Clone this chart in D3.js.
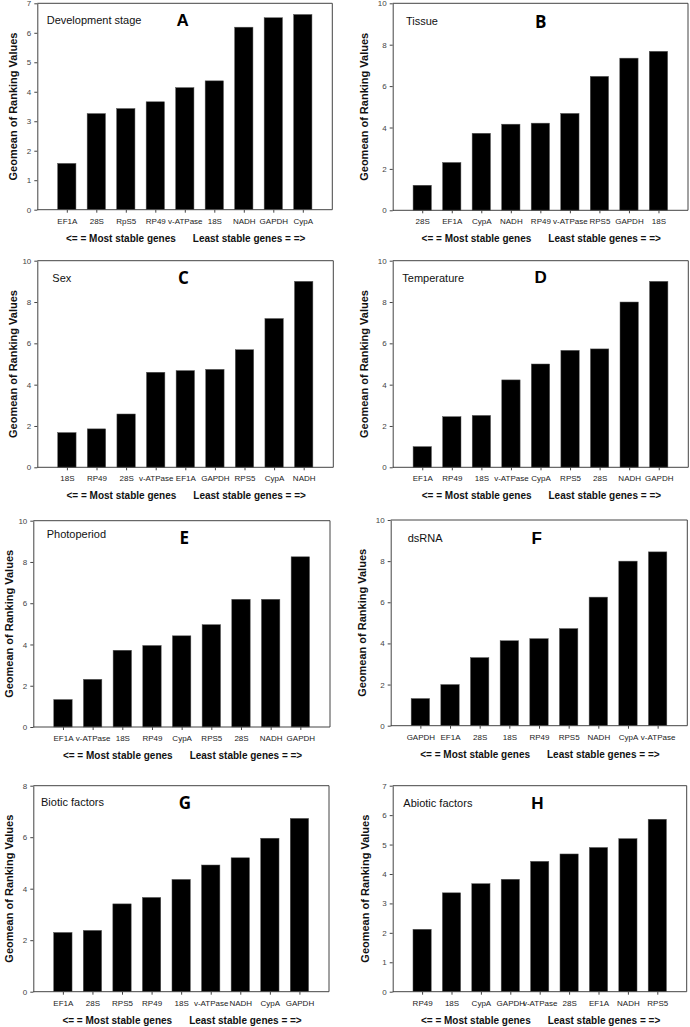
<!DOCTYPE html>
<html>
<head>
<meta charset="utf-8">
<script src="https://cdn.jsdelivr.net/npm/d3@7"></script>
<style>
html,body{margin:0;padding:0;background:#fff;}
svg{display:block;}
</style>
</head>
<body>
<svg id="chart" width="690" height="1027"></svg>
<script>
// ---- Data ----
const panelNames = ["Development stage","Tissue","Sex","Temperature","Photoperiod","dsRNA","Biotic factors","Abiotic factors"];
const panelLetters = ["A","B","C","D","E","F","G","H"];

const catsA = ["EF1A","28S","RpS5","RP49","v-ATPase","18S","NADH","GAPDH","CypA"];
const valsA = [1.57,3.26,3.43,3.66,4.14,4.37,6.19,6.51,6.62];
const catsB = ["28S","EF1A","CypA","NADH","RP49","v-ATPase","RPS5","GAPDH","18S"];
const valsB = [1.21,2.31,3.72,4.16,4.21,4.68,6.47,7.35,7.68];
const catsC = ["18S","RP49","28S","v-ATPase","EF1A","GAPDH","RPS5","CypA","NADH"];
const valsC = [1.68,1.86,2.58,4.6,4.68,4.74,5.69,7.2,9.0];
const catsD = ["EF1A","RP49","18S","v-ATPase","CypA","RPS5","28S","NADH","GAPDH"];
const valsD = [1.0,2.45,2.51,4.23,5.0,5.66,5.73,8.0,9.0];
const catsE = ["EF1A","v-ATPase","18S","RP49","CypA","RPS5","28S","NADH","GAPDH"];
const valsE = [1.33,2.31,3.72,3.95,4.42,4.96,6.19,6.19,8.25];
const catsF = ["GAPDH","EF1A","28S","18S","RP49","RPS5","NADH","CypA","v-ATPase"];
const valsF = [1.32,2.0,3.31,4.13,4.23,4.72,6.25,8.0,8.45];
const catsG = ["EF1A","28S","RPS5","RP49","18S","v-ATPase","NADH","CypA","GAPDH"];
const valsG = [2.3,2.38,3.41,3.66,4.36,4.92,5.2,5.96,6.73];
const catsH = ["RP49","18S","CypA","GAPDH","v-ATPase","28S","EF1A","NADH","RPS5"];
const valsH = [2.12,3.36,3.67,3.82,4.43,4.68,4.9,5.2,5.86];

const allCats = [catsA,catsB,catsC,catsD,catsE,catsF,catsG,catsH];
const allVals = [valsA,valsB,valsC,valsD,valsE,valsF,valsG,valsH];
const yMaxes = [7,10,10,10,10,10,8,7];
const yTickSteps = [1,2,2,2,2,2,2,1];

const yTitle = "Geomean of Ranking Values";
const leftNote = "<= = Most stable genes";
const rightNote = "Least stable genes = =>";

// ---- Layout (pixel geometry only) ----
const layout = [
  {l:37.3, r:332.3, t:3.3,   b:209.7, tx:12.7,  nx:46.7,  ny:20,    lx:182.7, ly:20,    lf:"Liberation Sans"},
  {l:392.7,r:688,   t:3.3,   b:210.3, tx:364.3, nx:406,   ny:21,    lx:540.8, ly:21,    lf:"Open Sans"},
  {l:37.3, r:333.3, t:260.7, b:467.3, tx:12.7,  nx:52.3,  ny:277.7, lx:183.3, ly:277.7, lf:"Open Sans"},
  {l:392.7,r:688.3, t:260.7, b:467.3, tx:364.3, nx:402.3, ny:277.7, lx:540.7, ly:277.7, lf:"Liberation Sans"},
  {l:33.3, r:330,   t:520.7, b:727,   tx:8.5,   nx:46.7,  ny:534,   lx:184.3, ly:537.3, lf:"Open Sans"},
  {l:390.7,r:687.3, t:520,   b:725.7, tx:362,   nx:407.7, ny:538.3, lx:536.7, ly:538.3, lf:"Liberation Sans"},
  {l:33.3, r:329,   t:785.7, b:991.7, tx:9.3,   nx:41,    ny:802.3, lx:185,   ly:802,   lf:"Open Sans"},
  {l:392.7,r:686.7, t:785.7, b:991.7, tx:365,   nx:403.3, ny:803.3, lx:537.3, ly:803.3, lf:"Liberation Sans"}
];

const svg = d3.select("#chart");
const FONT = "'Liberation Sans', Arial, sans-serif";

allCats.forEach((cats, i) => {
  const L = layout[i];
  const vals = allVals[i];
  const x = d3.scalePoint().domain(cats).range([L.l, L.r]).padding(1);
  const y = d3.scaleLinear().domain([0, yMaxes[i]]).range([L.b, L.t]);
  const bw = x.step() * 0.62;
  const g = svg.append("g");

  // bars
  g.selectAll("rect.bar").data(cats).enter().append("rect")
    .attr("class","bar")
    .attr("x", d => x(d) - bw/2)
    .attr("width", bw)
    .attr("y", (d,j) => y(vals[j]))
    .attr("height", (d,j) => y(0) - y(vals[j]))
    .attr("fill", "#000")
    .attr("stroke", "#555")
    .attr("stroke-width", 0.5);

  // frame top and right
  g.append("line").attr("x1", L.l).attr("x2", L.r).attr("y1", L.t).attr("y2", L.t)
    .attr("stroke", "#444").attr("stroke-width", 1);
  g.append("line").attr("x1", L.r).attr("x2", L.r).attr("y1", L.t).attr("y2", L.b)
    .attr("stroke", "#444").attr("stroke-width", 1);

  // y axis
  const yAxis = d3.axisLeft(y)
    .tickValues(d3.range(0, yMaxes[i] + 0.001, yTickSteps[i]))
    .tickFormat(d3.format("d"))
    .tickSize(3).tickPadding(3).tickSizeOuter(0);
  const ya = g.append("g").attr("transform", `translate(${L.l},0)`).call(yAxis);
  ya.selectAll("path,line").attr("stroke", "#444");
  ya.selectAll("text").attr("font-family", FONT).attr("font-size", 8).attr("fill", "#444");

  // x axis
  const xAxis = d3.axisBottom(x).tickSize(3).tickPadding(3).tickSizeOuter(0);
  const xa = g.append("g").attr("transform", `translate(0,${L.b})`).call(xAxis);
  xa.select("path.domain").attr("d", `M${L.l},0H${L.r}`);
  xa.selectAll("path,line").attr("stroke", "#444");
  xa.selectAll("text").attr("font-family", FONT).attr("font-size", 8).attr("fill", "#222")
    .attr("dy", null).attr("y", 14);

  // y title
  g.append("text")
    .attr("transform", `translate(${L.tx},${(L.t + L.b)/2}) rotate(-90)`)
    .attr("text-anchor", "middle").attr("dominant-baseline", "central")
    .attr("font-family", FONT).attr("font-weight", "bold").attr("font-size", 11)
    .attr("fill", "#111").text(yTitle);

  // panel name
  g.append("text").attr("x", L.nx).attr("y", L.ny)
    .attr("dominant-baseline", "central")
    .attr("font-family", FONT).attr("font-size", 11).attr("fill", "#111")
    .text(panelNames[i]);

  // panel letter
  g.append("text").attr("x", L.lx).attr("y", L.ly)
    .attr("text-anchor", "middle").attr("dominant-baseline", "central")
    .attr("font-family", `'${L.lf}', sans-serif`).attr("font-weight", "bold").attr("font-size", 17)
    .attr("fill", "#000").text(panelLetters[i]);

  // bottom note
  const cx = (L.l + L.r) / 2;
  g.append("text").attr("x", cx - 9).attr("y", L.b + 32)
    .attr("text-anchor", "end")
    .attr("font-family", FONT).attr("font-weight", "bold").attr("font-size", 10)
    .attr("fill", "#111").text(leftNote);
  g.append("text").attr("x", cx + 8).attr("y", L.b + 32)
    .attr("text-anchor", "start")
    .attr("font-family", FONT).attr("font-weight", "bold").attr("font-size", 10)
    .attr("fill", "#111").text(rightNote);
});
</script>
</body>
</html>
